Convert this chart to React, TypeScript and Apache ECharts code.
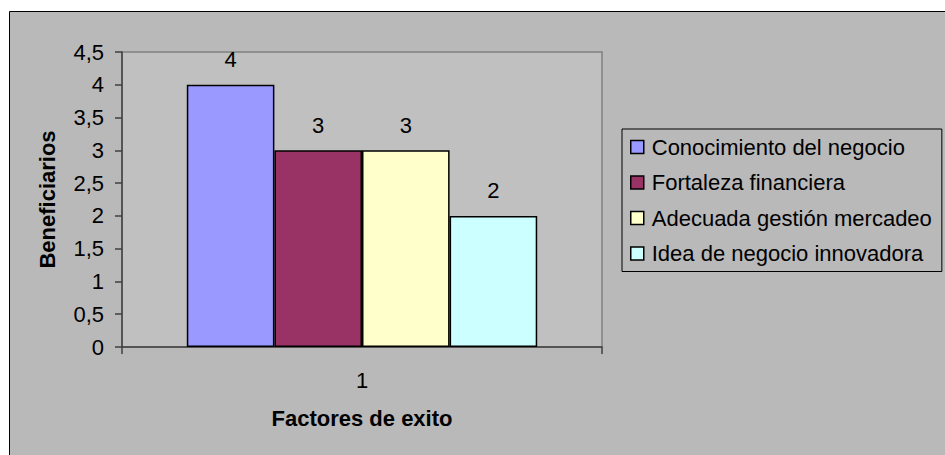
import React, { useEffect, useRef } from "react";
import * as echarts from "echarts";

const categories = ["1"];
const seriesNames = [
  "Conocimiento del negocio",
  "Fortaleza financiera",
  "Adecuada gestión mercadeo",
  "Idea de negocio innovadora",
];
const seriesValues = [[4], [3], [3], [2]];
const seriesColors = ["#9999FF", "#993366", "#FFFFCC", "#CCFFFF"];
const yAxisTitle = "Beneficiarios";
const xAxisTitle = "Factores de exito";

const FONT = "'Liberation Sans', Arial, sans-serif";
const FS = 22;

export default function App() {
  const ref = useRef<HTMLDivElement>(null);
  useEffect(() => {
    if (!ref.current) return;
    const chart = echarts.init(ref.current, undefined, { renderer: "svg" });
    chart.setOption({
      animation: false,
      backgroundColor: "#ffffff",
      textStyle: { fontFamily: FONT, color: "#000" },
      graphic: [
        {
          type: "rect",
          z: -10,
          silent: true,
          shape: { x: 9.5, y: 11.5, width: 1000, height: 1000 },
          style: { fill: "#B9B9B9", stroke: "#000", lineWidth: 1 },
        },
      ],
      grid: {
        left: 122,
        top: 52,
        right: 343,
        bottom: 108,
        show: true,
        backgroundColor: "#C0C0C0",
        borderColor: "#808080",
        borderWidth: 1.5,
      },
      legend: {
        orient: "vertical",
        left: 622,
        top: 129,
        padding: [7, 10, 7, 8],
        itemGap: 13.5,
        itemWidth: 13,
        itemHeight: 13,
        icon: "rect",
        borderColor: "#000",
        borderWidth: 1,
        backgroundColor: "#B9B9B9",
        itemStyle: { borderColor: "#000", borderWidth: 1.5 },
        textStyle: {
          fontFamily: FONT,
          fontSize: FS,
          color: "#000",
          lineHeight: 21,
          padding: [0, 0, 0, 3],
        },
        data: seriesNames,
      },
      xAxis: {
        type: "category",
        data: categories,
        name: xAxisTitle,
        nameLocation: "middle",
        nameGap: 60,
        nameTextStyle: { fontFamily: FONT, fontSize: FS, fontWeight: "bold", color: "#000" },
        axisLine: { lineStyle: { color: "#404040", width: 1.5 } },
        axisTick: { show: true, length: 7, inside: false, lineStyle: { color: "#404040", width: 1.5 } },
        axisLabel: { fontFamily: FONT, fontSize: FS, color: "#000", margin: 22 },
      },
      yAxis: {
        type: "value",
        min: 0,
        max: 4.5,
        interval: 0.5,
        name: yAxisTitle,
        nameLocation: "middle",
        nameGap: 64,
        nameTextStyle: { fontFamily: FONT, fontSize: FS, fontWeight: "bold", color: "#000" },
        axisLine: { show: true, lineStyle: { color: "#404040", width: 1.5 } },
        axisTick: { show: true, length: 7, lineStyle: { color: "#404040", width: 1.5 } },
        splitLine: { show: false },
        axisLabel: {
          fontFamily: FONT,
          fontSize: FS,
          color: "#000",
          margin: 18,
          formatter: (v: number) => String(v).replace(".", ","),
        },
      },
      series: seriesNames.map((name, i) => ({
        type: "bar",
        name,
        data: seriesValues[i],
        barGap: "0%",
        barCategoryGap: "27%",
        itemStyle: { color: seriesColors[i], borderColor: "#000", borderWidth: 1.5 },
        label: {
          show: true,
          position: "top",
          distance: 14,
          fontFamily: FONT,
          fontSize: FS,
          color: "#000",
        },
      })),
    });
    return () => chart.dispose();
  }, []);
  return (
    <div
      ref={ref}
      style={{ position: "absolute", left: 0, top: 0, width: 945, height: 455 }}
    />
  );
}
